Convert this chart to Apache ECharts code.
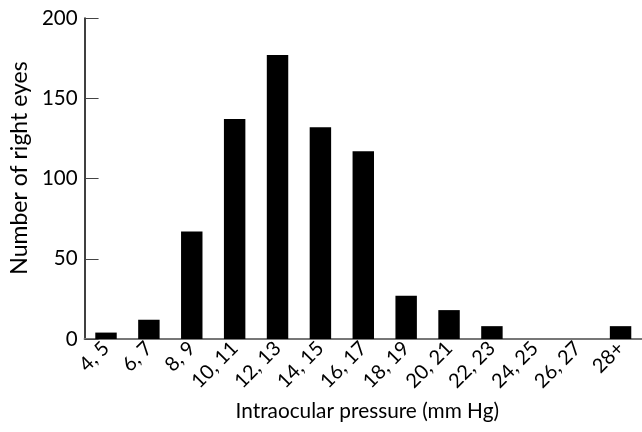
<!DOCTYPE html>
<html>
<head>
<meta charset="utf-8">
<script src="https://cdn.jsdelivr.net/npm/echarts@6/dist/echarts.min.js"></script>
<style>
  html, body { margin: 0; padding: 0; background: #fff; }
  #chart { width: 642px; height: 432px; }
</style>
</head>
<body>
<div id="chart"></div>
<script>
// pressure bins (mm Hg)
const categories = ["4, 5", "6, 7", "8, 9", "10, 11", "12, 13", "14, 15", "16, 17",
  "18, 19", "20, 21", "22, 23", "24, 25", "26, 27", "28+"];
// number of right eyes per bin
const eyeCounts = [4, 12, 67, 137, 177, 132, 117, 27, 18, 8, 0, 0, 8];
const yTicks = [0, 50, 100, 150, 200];

const font = "Lato, 'DejaVu Sans', sans-serif";
const chart = echarts.init(document.getElementById("chart"));
chart.setOption({
  animation: false,
  grid: { left: 79, right: 0, top: 18, bottom: 93, containLabel: false },
  xAxis: {
    type: "category",
    data: categories,
    name: "Intraocular pressure (mm Hg)",
    nameLocation: "middle",
    nameGap: 62,
    nameTextStyle: { fontFamily: font, fontSize: 20.8, color: "#000", padding: [0, 0, 0, 8] },
    axisLine: { lineStyle: { color: "#777", width: 2 } },
    axisTick: { inside: true, length: 16, lineStyle: { color: "#333", width: 1 } },
    axisLabel: { rotate: 45, margin: 6, fontFamily: font, fontSize: 20, color: "#000", interval: 0 },
    splitLine: { show: false }
  },
  yAxis: {
    type: "value",
    min: 0,
    max: 200,
    interval: 50,
    name: "Number of right eyes",
    nameLocation: "middle",
    nameGap: 52,
    nameTextStyle: { fontFamily: font, fontSize: 23, color: "#000", padding: [0, 0, 0, 21] },
    axisLine: { show: true, lineStyle: { color: "#000", width: 1.5 } },
    axisTick: { show: true, inside: true, length: 14, lineStyle: { color: "#444", width: 1 } },
    axisLabel: {
      margin: 7, fontFamily: font, fontSize: 20.5, color: "#000",
      formatter: v => yTicks.includes(v) ? String(v) : ""
    },
    splitLine: { show: false }
  },
  series: [{
    type: "bar",
    data: eyeCounts,
    barWidth: "50%",
    itemStyle: { color: "#000" }
  }]
});
</script>
</body>
</html>
